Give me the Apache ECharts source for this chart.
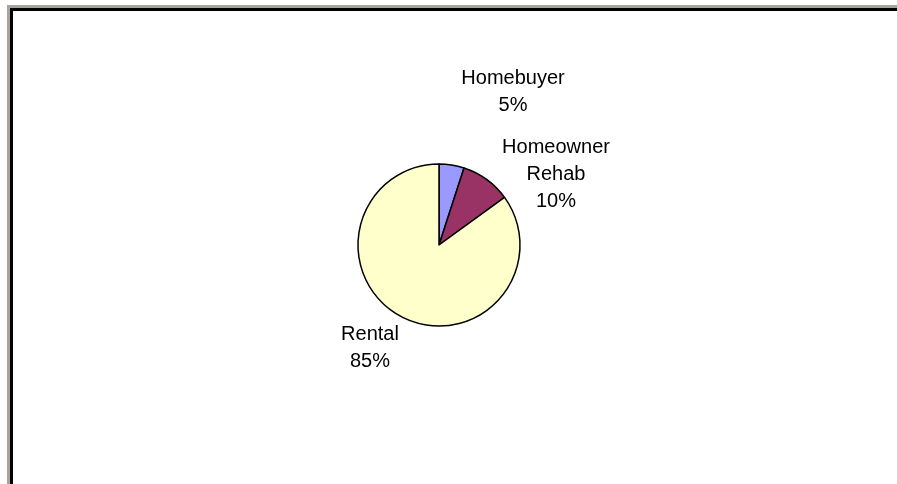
<html>
    <head>
        <meta charset="utf-8">
        <script src="https://cdn.jsdelivr.net/npm/echarts@6/dist/echarts.min.js"></script>
    </head>
    <body>
        <style>
            html, body {
                width: 100%;
                height: 100%;
                margin: 0;
                background: #fff;
            }
            #frame {
                position: absolute;
                left: 7px;
                top: 5px;
                right: 0;
                bottom: 0;
                border-left: 3px solid #a8a598;
                border-top: 3px solid #a8a598;
            }
            #inner {
                width: 100%;
                height: 100%;
                box-sizing: border-box;
                border-left: 3px solid #000;
                border-top: 3px solid #000;
            }
            #main {
                position: absolute;
                left: 0;
                top: 0;
                width: 897px;
                height: 484px;
            }
        </style>
        <div id="frame"><div id="inner"></div></div>
        <div id="main"></div>
        <script type="text/javascript">
            // 数据
            var categories = ['Homebuyer', 'Homeowner Rehab', 'Rental'];
            var values = [5, 10, 85];
            var colors = ['#9999ff', '#993366', '#ffffcc'];

            // 标签放置位置 (label centres)
            var labelPos = [[513, 92], [556, 174], [370, 348]];

            var chart = echarts.init(document.getElementById('main'));

            var pieData = [];
            for (var i = 0; i < categories.length; i++) {
                pieData.push({
                    name: categories[i],
                    value: values[i],
                    itemStyle: { color: colors[i] }
                });
            }

            var option = {
                animation: false,
                series: [{
                    type: 'pie',
                    center: [439, 245],
                    radius: 81,
                    startAngle: 90,
                    clockwise: true,
                    itemStyle: {
                        borderColor: '#000',
                        borderWidth: 1.5
                    },
                    label: {
                        show: true,
                        position: 'outside',
                        fontFamily: 'Liberation Sans, Arial, sans-serif',
                        fontSize: 20,
                        lineHeight: 27,
                        color: '#000',
                        align: 'center',
                        formatter: function (p) {
                            return p.name.replace(' ', '\n') + '\n' + p.value + '%';
                        }
                    },
                    labelLine: { show: false },
                    labelLayout: function (params) {
                        var pos = labelPos[params.dataIndex];
                        return {
                            x: pos[0],
                            y: pos[1],
                            align: 'center',
                            verticalAlign: 'middle'
                        };
                    },
                    emphasis: { disabled: true },
                    data: pieData
                }]
            };
            chart.setOption(option);
        </script>
    </body>
</html>
